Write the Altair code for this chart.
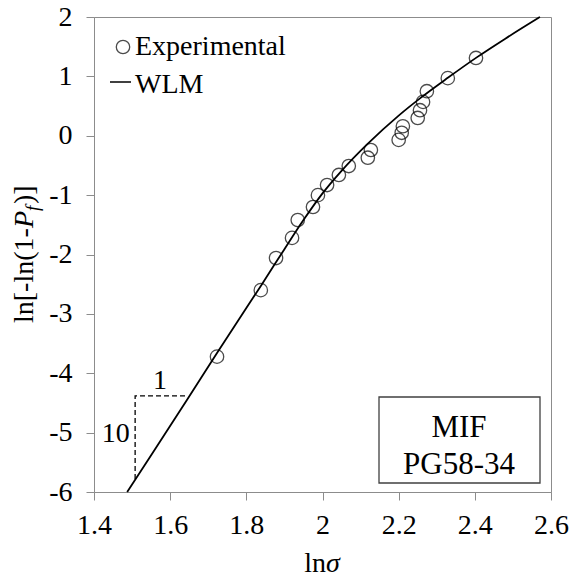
import altair as alt
import pandas as pd

FONT = "'Liberation Serif', 'Times New Roman', 'DejaVu Serif', serif"
GRAY = "#8c8c8c"

# Experimental data (ln sigma, ln[-ln(1-Pf)])
exp_x = [1.723, 1.838, 1.878, 1.920, 1.935, 1.975, 1.988, 2.012, 2.043, 2.069,
         2.119, 2.127, 2.200, 2.208, 2.211, 2.250, 2.256, 2.264, 2.274, 2.329, 2.403]
exp_y = [-3.72, -2.60, -2.06, -1.72, -1.42, -1.20, -1.00, -0.83, -0.66, -0.51,
         -0.37, -0.24, -0.07, 0.05, 0.16, 0.30, 0.43, 0.57, 0.75, 0.97, 1.31]

# WLM curve
wlm_x = [1.487, 1.55, 1.644, 1.723, 1.80, 1.841, 1.90, 1.95, 2.00, 2.05, 2.117,
         2.20, 2.256, 2.33, 2.405, 2.48, 2.571]
wlm_y = [-6.00, -5.38, -4.45, -3.66, -2.90, -2.50, -1.91, -1.42, -0.97, -0.59, -0.145,
         0.34, 0.63, 0.98, 1.32, 1.635, 2.00]

# slope triangle (1 : 10)
tri_x = [1.639, 1.508, 1.508]
tri_y = [-4.38, -4.38, -5.79]
tri_lab = ["1", "10"]
tri_lab_x = [1.573, 1.494]
tri_lab_y = [-4.26, -5.15]

x_ticks = [1.4, 1.6, 1.8, 2.0, 2.2, 2.4, 2.6]
y_ticks = [-6, -5, -4, -3, -2, -1, 0, 1, 2]

df_exp = pd.DataFrame({"x": exp_x, "y": exp_y})
df_wlm = pd.DataFrame({"x": wlm_x, "y": wlm_y, "o": list(range(len(wlm_x)))})
df_tri = pd.DataFrame({"x": tri_x, "y": tri_y, "o": [0, 1, 2]})
df_lab = pd.DataFrame({"x": tri_lab_x, "y": tri_lab_y, "t": tri_lab})

xs = alt.Scale(domain=[1.4, 2.6], nice=False, zero=False)
ys = alt.Scale(domain=[-6, 2], nice=False, zero=False)

axis_common = dict(title=None, grid=False, domainColor=GRAY, tickColor=GRAY, tickSize=8,
                   labelFont=FONT, labelFontSize=28, labelColor="black",
                   labelExpr="toString(datum.value)", labelFlush=False, labelOverlap=False)

X = alt.X("x:Q", scale=xs, axis=alt.Axis(values=x_ticks, labelPadding=11, **axis_common))
Y = alt.Y("y:Q", scale=ys, axis=alt.Axis(values=y_ticks, labelPadding=14, **axis_common))

points = alt.Chart(df_exp).mark_point(shape="circle", filled=False, color="black",
                                      size=180, strokeWidth=1.3).encode(x=X, y=Y)

line = alt.Chart(df_wlm).mark_line(color="black", strokeWidth=1.8,
                                   interpolate="monotone").encode(x="x:Q", y="y:Q", order="o:Q")

tri = alt.Chart(df_tri).mark_line(color="black", strokeWidth=1.3,
                                  strokeDash=[5, 3]).encode(x="x:Q", y="y:Q", order="o:Q")

tri_text_c = alt.Chart(df_lab.iloc[[0]]).mark_text(font=FONT, fontSize=28, align="center",
                                                   baseline="alphabetic", color="black").encode(
    x="x:Q", y="y:Q", text="t:N")
tri_text_r = alt.Chart(df_lab.iloc[[1]]).mark_text(font=FONT, fontSize=28, align="right",
                                                   baseline="alphabetic", color="black").encode(
    x="x:Q", y="y:Q", text="t:N")

one = alt.Data(values=[{"a": 1}])


def txt(text, x, y, align="left", angle=0, size=28, style="normal"):
    kw = dict(text=text, font=FONT, fontSize=size, fontStyle=style, align=align,
              baseline="alphabetic", color="black")
    if angle:
        kw["angle"] = angle
    return alt.Chart(one).mark_text(**kw).encode(x=alt.value(x), y=alt.value(y))


# y axis title: ln[-ln(1-P_f)]
ytitle = [
    txt("ln[-ln(1-", -61, 306, angle=270),
    txt("P", -61, 211, angle=270, style="italic"),
    txt("f", -55, 194, angle=270, style="italic", size=19),
    txt(")]", -61, 187, angle=270),
]
# x axis title: ln sigma
xtitle = [
    txt("ln", 232, 555, align="right"),
    txt("σ", 232, 555, style="italic"),
]

# legend
leg_pt = alt.Chart(one).mark_point(shape="circle", filled=False, color="black", size=180,
                                   strokeWidth=1.3).encode(x=alt.value(29), y=alt.value(30))
leg_line = alt.Chart(one).mark_rule(color="black", strokeWidth=1.5).encode(
    x=alt.value(16), x2=alt.value(37), y=alt.value(65))
legend = [leg_pt, txt("Experimental", 41, 38), leg_line, txt("WLM", 41, 76)]

# label box
box = alt.Chart(one).mark_rect(fill="white", stroke="#404040", strokeWidth=1.3).encode(
    x=alt.value(285), x2=alt.value(446), y=alt.value(380), y2=alt.value(466))
boxtext = [txt("MIF", 365, 420, align="center", size=31),
           txt("PG58-34", 365, 457, align="center", size=31)]

chart = alt.layer(
    points, line, tri, tri_text_c, tri_text_r, *ytitle, *xtitle, *legend, box, *boxtext
).properties(
    width=457, height=475,
    autosize=alt.AutoSizeParams(type="none"),
    padding={"left": 94, "top": 17, "right": 22, "bottom": 86},
).configure_view(stroke=GRAY, strokeWidth=1)

chart.save("out.html", embed_options={"renderer": "svg", "actions": False})
